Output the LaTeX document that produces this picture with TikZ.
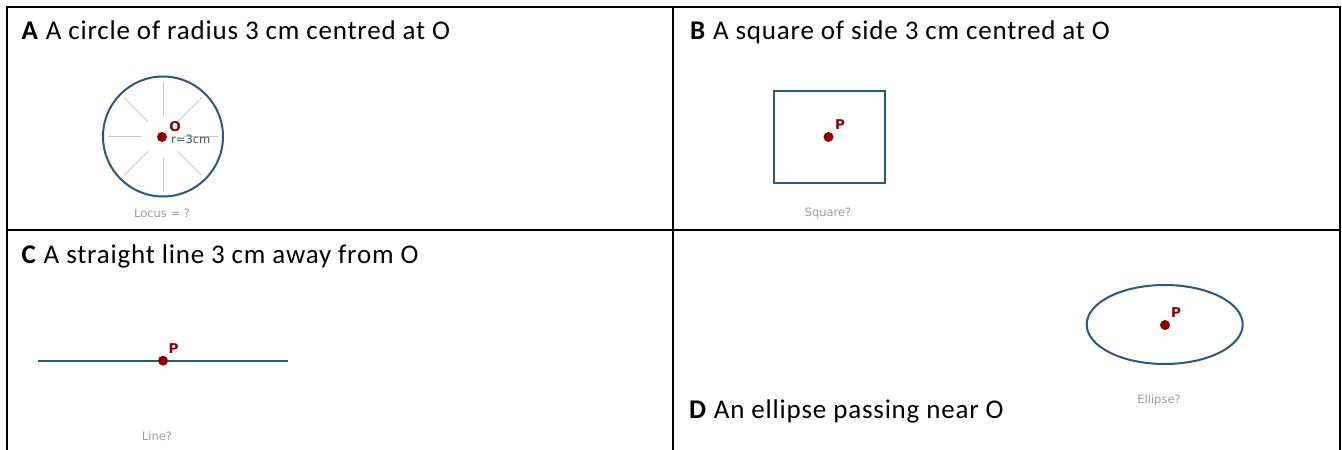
\documentclass[tikz,border=0pt]{standalone}
\usepackage{fontspec}
\usetikzlibrary{calc}
\setmainfont{Carlito}[LetterSpace=3]
\newfontfamily\labelfont{DejaVu Sans}
\begin{document}
\begin{tikzpicture}[x=1pt,y=-1pt,
  tableline/.style={line width=2.6pt,black},
  shapeline/.style={line width=2pt,draw=shapeblue},
  spoke/.style={line width=0.8pt,draw=spokegray},
  dot/.style={circle,fill=dotred,inner sep=0pt,minimum size=10pt},
  title/.style={anchor=base west,inner sep=0pt,font=\fontsize{27}{30}\selectfont},
  ptlabel/.style={inner sep=0pt,text=dotred,font=\labelfont\bfseries\fontsize{13.5}{15}\selectfont},
  caption/.style={inner sep=0pt,text=capgray,font=\labelfont\fontsize{11.5}{13}\selectfont}]
\definecolor{shapeblue}{RGB}{40,88,135}
\definecolor{dotred}{RGB}{140,0,0}
\definecolor{spokegray}{RGB}{200,200,200}
\definecolor{capgray}{RGB}{155,155,155}
\useasboundingbox (0,0) rectangle (1342,450);
% table
\draw[tableline] (7,450) -- (7,7) -- (1340,7) -- (1340,450);
\draw[tableline] (673,7) -- (673,450);
\draw[tableline] (7,230) -- (1340,230);
% titles
\node[title] (ta) at (21.5,39.3) {\textbf{A} A circle of radius 3 cm centred at O};
\node[title] (tb) at (690,39.3) {\textbf{B} A square of side 3 cm centred at O};
\node[title] (tc) at (21.5,263.3) {\textbf{C} A straight line 3 cm away from O};
\node[title] (td) at (689,418) {\textbf{D} An ellipse passing near O};
% A: circle
\coordinate (oa) at (163,136.5);
\foreach \a in {0,45,...,315}
  \draw[spoke] ($(oa)+(\a:21)$) -- ($(oa)+(\a:55)$);
\draw[shapeline] (oa) circle[radius=60];
\node[dot] (da) at (162,137) {};
\node[ptlabel,anchor=center] (la) at (175,127) {O};
\node[inner sep=0pt,anchor=west,text=black!70,font=\labelfont\fontsize{11.5}{13}\selectfont] (ra) at (171,139) {r=3cm};
\node[caption] (ca) at (162,213) {Locus = ?};
% B: square
\draw[shapeline] (773.5,91) rectangle (884.5,183);
\node[dot] (db) at (828.5,137) {};
\node[ptlabel] (lb) at (840,125) {P};
\node[caption] (cb) at (828,213) {Square?};
% C: line
\coordinate (l1) at (38,360.7);
\coordinate (l2) at (287.5,360.7);
\draw[shapeline] (l1) -- (l2);
\node[dot] (dc) at (163,360.7) {};
\node[ptlabel] (lc) at (173.5,348.5) {P};
\node[caption] (cc) at (157,436.5) {Line?};
% D: ellipse
\coordinate (od) at (1164.7,324.5);
\draw[shapeline] (od) ellipse[x radius=78,y radius=39.5];
\node[dot] (dd) at (1165,325) {};
\node[ptlabel] (ld) at (1176,313) {P};
\node[caption] (cd) at (1159,400.5) {Ellipse?};
\end{tikzpicture}
\end{document}
